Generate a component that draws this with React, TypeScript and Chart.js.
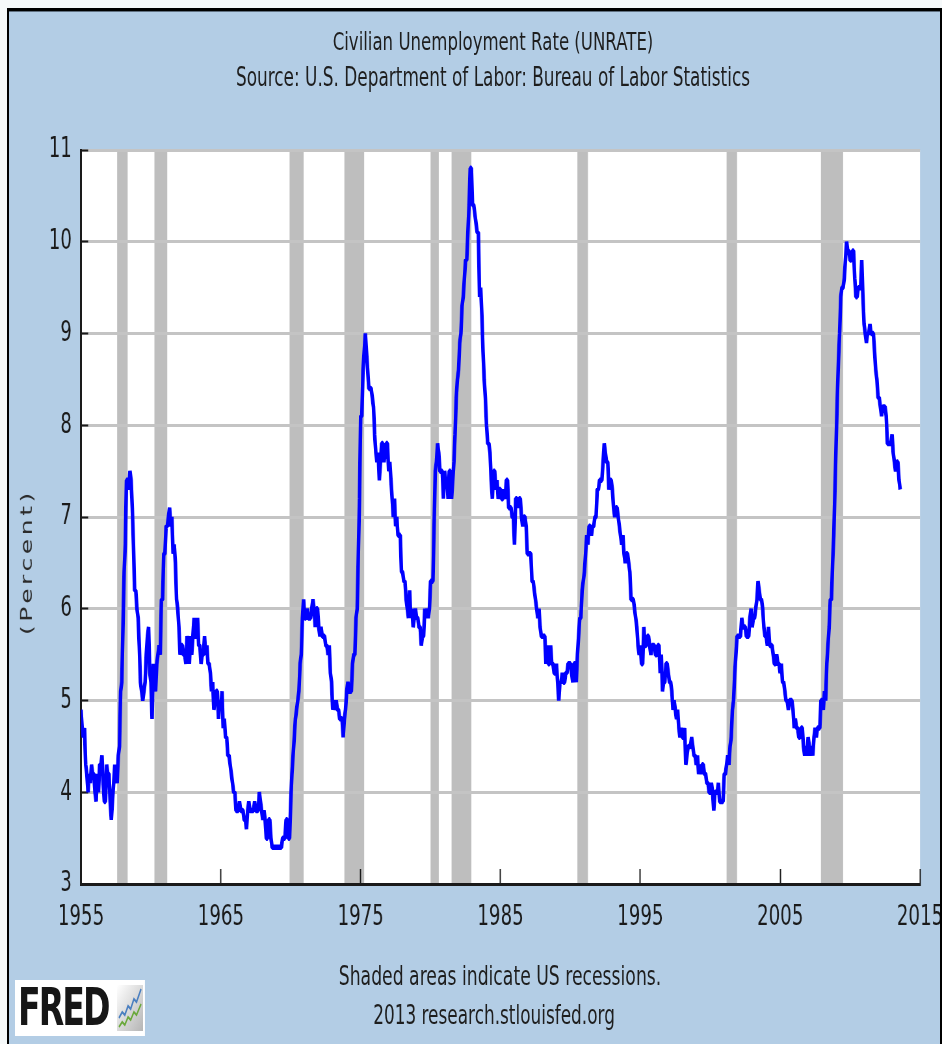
import React, { useEffect, useRef } from 'react';
import { Chart, registerables } from 'chart.js';

Chart.register(...registerables);

// ---------------- DATA ----------------
const START_YEAR = 1955; // first monthly observation: Jan 1955

const unrate1955to1959 = [
  4.9, 4.7, 4.6, 4.7, 4.3, 4.2, 4.0, 4.2, 4.1, 4.3, 4.2, 4.2,
  4.0, 3.9, 4.2, 4.0, 4.3, 4.3, 4.4, 4.1, 3.9, 3.9, 4.3, 4.2,
  4.2, 3.9, 3.7, 3.9, 4.1, 4.3, 4.2, 4.1, 4.4, 4.5, 5.1, 5.2,
  5.8, 6.4, 6.7, 7.4, 7.4, 7.3, 7.5, 7.4, 7.1, 6.7, 6.2, 6.2,
  6.0, 5.9, 5.6, 5.2, 5.1, 5.0, 5.1, 5.2, 5.5, 5.7, 5.8, 5.3,
];
const unrate1960s = [
  5.2, 4.8, 5.4, 5.2, 5.1, 5.4, 5.5, 5.6, 5.5, 6.1, 6.1, 6.6,
  6.6, 6.9, 6.9, 7.0, 7.1, 6.9, 7.0, 6.6, 6.7, 6.5, 6.1, 6.0,
  5.8, 5.5, 5.6, 5.6, 5.5, 5.5, 5.4, 5.7, 5.6, 5.4, 5.7, 5.5,
  5.7, 5.9, 5.7, 5.7, 5.9, 5.6, 5.6, 5.4, 5.5, 5.5, 5.7, 5.5,
  5.6, 5.4, 5.4, 5.3, 5.1, 5.2, 4.9, 5.0, 5.1, 5.1, 4.8, 5.0,
  4.9, 5.1, 4.7, 4.8, 4.6, 4.6, 4.4, 4.4, 4.3, 4.2, 4.1, 4.0,
  4.0, 3.8, 3.8, 3.8, 3.9, 3.8, 3.8, 3.8, 3.7, 3.7, 3.6, 3.8,
  3.9, 3.8, 3.8, 3.8, 3.8, 3.9, 3.8, 3.8, 3.8, 4.0, 3.9, 3.8,
  3.7, 3.8, 3.7, 3.5, 3.5, 3.7, 3.7, 3.5, 3.4, 3.4, 3.4, 3.4,
  3.4, 3.4, 3.4, 3.4, 3.4, 3.5, 3.5, 3.5, 3.7, 3.7, 3.5, 3.5,
];
const unrate1970s = [
  3.9, 4.2, 4.4, 4.6, 4.8, 4.9, 5.0, 5.1, 5.4, 5.5, 5.9, 6.1,
  5.9, 5.9, 6.0, 5.9, 5.9, 5.9, 6.0, 6.1, 6.0, 5.8, 6.0, 6.0,
  5.8, 5.7, 5.8, 5.7, 5.7, 5.7, 5.6, 5.6, 5.5, 5.6, 5.3, 5.2,
  4.9, 5.0, 4.9, 5.0, 4.9, 4.9, 4.8, 4.8, 4.8, 4.6, 4.8, 4.9,
  5.1, 5.2, 5.1, 5.1, 5.1, 5.4, 5.5, 5.5, 5.9, 6.0, 6.6, 7.2,
  8.1, 8.1, 8.6, 8.8, 9.0, 8.8, 8.6, 8.4, 8.4, 8.4, 8.3, 8.2,
  7.9, 7.7, 7.6, 7.7, 7.4, 7.6, 7.8, 7.8, 7.6, 7.7, 7.8, 7.8,
  7.5, 7.6, 7.4, 7.2, 7.0, 7.2, 6.9, 7.0, 6.8, 6.8, 6.8, 6.4,
  6.4, 6.3, 6.3, 6.1, 6.0, 5.9, 6.2, 5.9, 6.0, 5.8, 5.9, 6.0,
  5.9, 5.9, 5.8, 5.8, 5.6, 5.7, 5.7, 6.0, 5.9, 6.0, 5.9, 6.0,
];
const unrate1980s = [
  6.3, 6.3, 6.3, 6.9, 7.5, 7.6, 7.8, 7.7, 7.5, 7.5, 7.5, 7.2,
  7.5, 7.4, 7.4, 7.2, 7.5, 7.5, 7.2, 7.4, 7.6, 7.9, 8.3, 8.5,
  8.6, 8.9, 9.0, 9.3, 9.4, 9.6, 9.8, 9.8, 10.1, 10.4, 10.8, 10.8,
  10.4, 10.4, 10.3, 10.2, 10.1, 10.1, 9.4, 9.5, 9.2, 8.8, 8.5, 8.3,
  8.0, 7.8, 7.8, 7.7, 7.4, 7.2, 7.5, 7.5, 7.3, 7.4, 7.2, 7.3,
  7.3, 7.2, 7.2, 7.3, 7.2, 7.4, 7.4, 7.1, 7.1, 7.1, 7.0, 7.0,
  6.7, 7.2, 7.2, 7.1, 7.2, 7.2, 7.0, 6.9, 7.0, 7.0, 6.9, 6.6,
  6.6, 6.6, 6.6, 6.3, 6.3, 6.2, 6.1, 6.0, 5.9, 6.0, 5.8, 5.7,
  5.7, 5.7, 5.7, 5.4, 5.6, 5.4, 5.4, 5.6, 5.4, 5.4, 5.3, 5.3,
  5.4, 5.2, 5.0, 5.2, 5.2, 5.3, 5.2, 5.2, 5.3, 5.3, 5.4, 5.4,
];
const unrate1990s = [
  5.4, 5.3, 5.2, 5.4, 5.4, 5.2, 5.5, 5.7, 5.9, 5.9, 6.2, 6.3,
  6.4, 6.6, 6.8, 6.7, 6.9, 6.9, 6.8, 6.9, 6.9, 7.0, 7.0, 7.3,
  7.3, 7.4, 7.4, 7.4, 7.6, 7.8, 7.7, 7.6, 7.6, 7.3, 7.4, 7.4,
  7.3, 7.1, 7.0, 7.1, 7.1, 7.0, 6.9, 6.8, 6.7, 6.8, 6.6, 6.5,
  6.6, 6.6, 6.5, 6.4, 6.1, 6.1, 6.1, 6.0, 5.9, 5.8, 5.6, 5.5,
  5.6, 5.4, 5.4, 5.8, 5.6, 5.6, 5.7, 5.7, 5.6, 5.5, 5.6, 5.6,
  5.6, 5.5, 5.5, 5.6, 5.6, 5.3, 5.5, 5.1, 5.2, 5.2, 5.4, 5.4,
  5.3, 5.2, 5.2, 5.1, 4.9, 5.0, 4.9, 4.8, 4.9, 4.7, 4.6, 4.7,
  4.6, 4.6, 4.7, 4.3, 4.4, 4.5, 4.5, 4.5, 4.6, 4.5, 4.4, 4.4,
  4.3, 4.4, 4.2, 4.3, 4.2, 4.3, 4.3, 4.2, 4.2, 4.1, 4.1, 4.0,
];
const unrate2000s = [
  4.0, 4.1, 4.0, 3.8, 4.0, 4.0, 4.0, 4.1, 3.9, 3.9, 3.9, 3.9,
  4.2, 4.2, 4.3, 4.4, 4.3, 4.5, 4.6, 4.9, 5.0, 5.3, 5.5, 5.7,
  5.7, 5.7, 5.7, 5.9, 5.8, 5.8, 5.8, 5.7, 5.7, 5.7, 5.9, 6.0,
  5.8, 5.9, 5.9, 6.0, 6.1, 6.3, 6.2, 6.1, 6.1, 6.0, 5.8, 5.7,
  5.7, 5.6, 5.8, 5.6, 5.6, 5.6, 5.5, 5.4, 5.4, 5.5, 5.4, 5.4,
  5.3, 5.4, 5.2, 5.2, 5.1, 5.0, 5.0, 4.9, 5.0, 5.0, 5.0, 4.9,
  4.7, 4.8, 4.7, 4.7, 4.6, 4.6, 4.7, 4.7, 4.5, 4.4, 4.5, 4.4,
  4.6, 4.5, 4.4, 4.5, 4.4, 4.6, 4.7, 4.6, 4.7, 4.7, 4.7, 5.0,
  5.0, 4.9, 5.1, 5.0, 5.4, 5.6, 5.8, 6.1, 6.1, 6.5, 6.8, 7.3,
  7.8, 8.3, 8.7, 9.0, 9.4, 9.5, 9.5, 9.6, 9.8, 10.0, 9.9, 9.9,
];
const unrate2010to2013 = [
  9.8, 9.8, 9.9, 9.9, 9.6, 9.4, 9.4, 9.5, 9.5, 9.5, 9.8, 9.4,
  9.1, 9.0, 8.9, 9.0, 9.0, 9.1, 9.0, 9.0, 9.0, 8.8, 8.6, 8.5,
  8.3, 8.3, 8.2, 8.1, 8.2, 8.2, 8.2, 8.1, 7.8, 7.8, 7.8, 7.8,
  7.9, 7.7, 7.6, 7.5, 7.6, 7.6, 7.4, 7.3,
];

const xTickYears = [1955, 1965, 1975, 1985, 1995, 2005, 2015];
const yTickValues = [3, 4, 5, 6, 7, 8, 9, 10, 11];

// NBER recessions (peak month .. trough month, inclusive)
const recessionStart = ['1957-08', '1960-04', '1969-12', '1973-11', '1980-01', '1981-07', '1990-07', '2001-03', '2007-12'];
const recessionEnd = ['1958-04', '1961-02', '1970-11', '1975-03', '1980-07', '1982-11', '1991-03', '2001-11', '2009-06'];

const titleText = 'Civilian Unemployment Rate (UNRATE)';
const subtitleText = 'Source: U.S. Department of Labor: Bureau of Labor Statistics';
const axisTitleText = '(Percent)';
const noteText = 'Shaded areas indicate US recessions.';
const creditText = '2013 research.stlouisfed.org';

// ---------------- LAYOUT ----------------
const VW = 1449; // virtual (unsquished) width
const H = 1044;
const S = 942 / VW; // horizontal squish factor
const vx = (realX: number) => realX / S;
const PLOT_LEFT = 81;
const PLOT_RIGHT = 920;
const PLOT_TOP = 150;
const PLOT_BOTTOM = 884;
const FONT = "'DejaVu Sans', 'Noto Sans', sans-serif";

const monthToYear = (s: string, endOfMonth: boolean) => {
  const [y, m] = s.split('-').map(Number);
  return y + (m - (endOfMonth ? 0 : 1)) / 12;
};

const backdropPlugin = {
  id: 'fredBackdrop',
  beforeDraw(chart: any) {
    const { ctx, chartArea: a, scales } = chart;
    const x = scales.x;
    ctx.save();
    ctx.fillStyle = '#ffffff';
    ctx.fillRect(a.left, a.top, a.right - a.left, a.bottom - a.top);
    ctx.fillStyle = '#bebebe';
    recessionStart.forEach((s, i) => {
      const x0 = x.getPixelForValue(monthToYear(s, false));
      const x1 = x.getPixelForValue(monthToYear(recessionEnd[i], true));
      ctx.fillRect(x0, a.top, x1 - x0, a.bottom - a.top);
    });
    ctx.restore();
  },
};

function CenterText(props: { cx: number; cy: number; size: number; children: React.ReactNode }) {
  const { cx, cy, size, children } = props;
  return (
    <div
      style={{
        position: 'absolute',
        left: vx(cx) - 800,
        width: 1600,
        top: cy - size * 0.6,
        height: size * 1.2,
        lineHeight: `${size * 1.2}px`,
        fontSize: size,
        fontFamily: FONT,
        color: '#1e1e1e',
        textAlign: 'center',
        whiteSpace: 'nowrap',
      }}
    >
      {children}
    </div>
  );
}

export default function App() {
  const canvasRef = useRef<HTMLCanvasElement | null>(null);

  useEffect(() => {
    if (!canvasRef.current) return;
    const all = [
      ...unrate1955to1959,
      ...unrate1960s,
      ...unrate1970s,
      ...unrate1980s,
      ...unrate1990s,
      ...unrate2000s,
      ...unrate2010to2013,
    ];
    const points = all.map((y, i) => ({ x: START_YEAR + i / 12, y }));

    const chart = new Chart(canvasRef.current, {
      type: 'line',
      data: {
        datasets: [
          {
            label: 'UNRATE',
            data: points,
            borderColor: '#0000ff',
            backgroundColor: '#0000ff',
            borderWidth: 5.5,
            borderJoinStyle: 'bevel',
            pointRadius: 0,
            tension: 0,
            fill: false,
          },
        ],
      },
      options: {
        animation: false,
        responsive: false,
        maintainAspectRatio: false,
        devicePixelRatio: 1,
        events: [],
        layout: { padding: { left: 0, top: PLOT_TOP, right: VW - vx(PLOT_RIGHT), bottom: 0 } },
        plugins: {
          legend: { display: false },
          tooltip: { enabled: false },
          title: { display: false },
        },
        scales: {
          x: {
            type: 'linear',
            min: xTickYears[0],
            max: xTickYears[xTickYears.length - 1],
            afterBuildTicks: (s: any) => {
              s.ticks = xTickYears.map((v) => ({ value: v }));
            },
            afterFit: (s: any) => {
              s.height = H - PLOT_BOTTOM;
              s.paddingLeft = 0;
              s.paddingRight = 0;
            },
            grid: {
              drawOnChartArea: false,
              drawTicks: true,
              tickLength: -15,
              tickColor: '#1a1a1a',
              tickWidth: 2,
            },
            border: { display: true, color: '#1a1a1a', width: 3 },
            ticks: {
              autoSkip: false,
              maxRotation: 0,
              minRotation: 0,
              padding: 32,
              color: '#1a1a1a',
              font: { family: FONT, size: 28 },
              callback: (v: any) => String(v),
            },
          },
          y: {
            type: 'linear',
            min: yTickValues[0],
            max: yTickValues[yTickValues.length - 1],
            afterBuildTicks: (s: any) => {
              s.ticks = yTickValues.map((v) => ({ value: v }));
            },
            afterFit: (s: any) => {
              s.width = vx(PLOT_LEFT);
              s.paddingTop = 0;
              s.paddingBottom = 0;
            },
            grid: {
              color: (c: any) => (c.tick && c.tick.value === yTickValues[0] ? 'rgba(0,0,0,0)' : '#c4c4c4'),
              lineWidth: 3,
              drawTicks: true,
              tickLength: -11,
              tickColor: '#1a1a1a',
              tickWidth: 2,
            },
            border: { display: true, color: '#1a1a1a', width: 3 },
            ticks: {
              padding: 25,
              color: '#1a1a1a',
              font: { family: FONT, size: 28 },
              callback: (v: any) => String(v),
            },
          },
        },
      },
      plugins: [backdropPlugin],
    } as any);

    return () => chart.destroy();
  }, []);

  return (
    <div
      style={{
        position: 'absolute',
        left: 0,
        top: 0,
        width: 942,
        height: H,
        background: '#f6f9fa',
        overflow: 'hidden',
      }}
    >
      {/* blue panel */}
      <div
        style={{
          position: 'absolute',
          left: 8,
          top: 8,
          width: 934,
          height: H,
          background: '#b3cde5',
        }}
      />
      {/* squished layer: chart + texts */}
      <div
        style={{
          position: 'absolute',
          left: 0,
          top: 0,
          width: VW,
          height: H,
          transform: `scaleX(${S})`,
          transformOrigin: '0 0',
        }}
      >
        <canvas
          ref={canvasRef}
          width={VW}
          height={H}
          style={{ position: 'absolute', left: 0, top: 0, width: VW, height: H }}
        />
        <CenterText cx={493} cy={41} size={25.5}>{titleText}</CenterText>
        <CenterText cx={493} cy={78} size={26}>{subtitleText}</CenterText>
        <CenterText cx={500} cy={976} size={26.5}>{noteText}</CenterText>
        <CenterText cx={494} cy={1016} size={26}>{creditText}</CenterText>
        <div
          style={{
            position: 'absolute',
            left: vx(26.7),
            top: 562,
            transform: 'translate(-50%, -50%) rotate(-90deg)',
            fontFamily: FONT,
            fontSize: 25,
            letterSpacing: '3.6px',
            color: '#2a2a2a',
            whiteSpace: 'nowrap',
            lineHeight: '28px',
          }}
        >
          {axisTitleText}
        </div>
        {/* FRED logo */}
        <div
          style={{
            position: 'absolute',
            left: vx(15),
            top: 980,
            width: vx(145) - vx(15),
            height: 56,
            background: '#ffffff',
          }}
        >
          <div
            style={{
              position: 'absolute',
              left: vx(18) - vx(15),
              top: 2,
              fontFamily: FONT,
              fontWeight: 900,
              fontSize: 51,
              lineHeight: '52px',
              letterSpacing: '-3px',
              color: '#161616',
            }}
          >
            FRED
          </div>
          <svg
            style={{ position: 'absolute', left: vx(117) - vx(15), top: 5 }}
            width={vx(143) - vx(117)}
            height={46}
            viewBox="0 0 40 46"
            preserveAspectRatio="none"
          >
            <defs>
              <linearGradient id="fredg" x1="0" y1="0" x2="1" y2="1">
                <stop offset="0" stopColor="#ffffff" />
                <stop offset="1" stopColor="#b5b5b5" />
              </linearGradient>
            </defs>
            <rect x="0" y="0" width="40" height="46" fill="url(#fredg)" />
            <polyline points="3,33 8,27 12,30 17,21 21,24 26,14 30,17 37,4" fill="none" stroke="#4a7fc0" strokeWidth="2.2" />
            <polyline points="3,42 8,37 12,40 17,32 21,35 26,27 30,30 37,19" fill="none" stroke="#6aa83a" strokeWidth="2.2" />
          </svg>
        </div>
      </div>
      {/* frame border */}
      <div
        style={{
          position: 'absolute',
          left: 7,
          top: 8,
          width: 935,
          height: H,
          boxSizing: 'border-box',
          borderTop: '3px solid #000',
          borderLeft: '2px solid #000',
          borderRight: '2px solid #000',
          pointerEvents: 'none',
        }}
      />
      <div
        style={{
          position: 'absolute',
          left: 9,
          top: 11,
          width: 931,
          height: 1,
          background: '#607080',
          pointerEvents: 'none',
        }}
      />
    </div>
  );
}
